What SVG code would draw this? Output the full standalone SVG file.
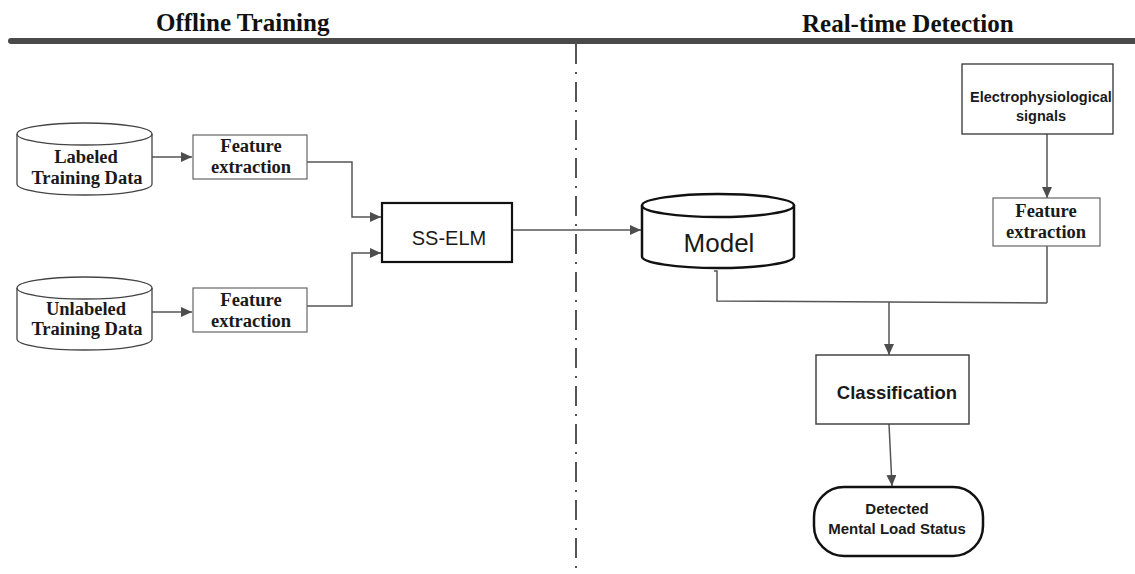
<svg xmlns="http://www.w3.org/2000/svg" width="1135" height="574" viewBox="0 0 1135 574">
<style>
.title{font-family:"Liberation Serif",serif;font-weight:bold;font-size:25px;fill:#111}
.serif{font-family:"Liberation Serif",serif;font-weight:bold;font-size:18.5px;fill:#1a1a1a;text-anchor:middle}
.sans{font-family:"Liberation Sans",Arial,sans-serif;fill:#1a1a1a}
.conn{fill:none;stroke:#555;stroke-width:1.5}
.thin{fill:#fff;stroke:#666;stroke-width:1.2}
</style>
<defs>
<marker id="ah" markerUnits="userSpaceOnUse" markerWidth="12" markerHeight="10" refX="11" refY="5" orient="auto">
<path d="M0,0 L11,5 L0,10 z" fill="#4d4d4d"/>
</marker>
</defs>
<rect width="1135" height="574" fill="#fff"/>
<g id="header">
<rect x="8" y="38" width="1135" height="6" rx="3" fill="#4a4a4a"/>
<text class="title" x="156" y="31">Offline Training</text>
<text class="title" x="802" y="32">Real-time Detection</text>
</g>
<g id="divider">
<line x1="576" y1="44" x2="576" y2="574" stroke="#555" stroke-width="2" stroke-dasharray="20 8 2 8"/>
</g>
<g id="connectors">
<path class="conn" d="M152,157 H192" marker-end="url(#ah)"/>
<path class="conn" d="M152,312 H192" marker-end="url(#ah)"/>
<path class="conn" d="M307,162 H352 V217 H381" marker-end="url(#ah)"/>
<path class="conn" d="M307,306 H352 V253 H381" marker-end="url(#ah)"/>
<path class="conn" d="M512,230 H641" marker-end="url(#ah)"/>
<path class="conn" d="M1047,134 V198" marker-end="url(#ah)"/>
<path class="conn" d="M714,271 H717 V301 L1047,303"/>
<path class="conn" d="M1047,246 V303"/>
<path class="conn" d="M889,302 V355" marker-end="url(#ah)"/>
<path class="conn" d="M889,424 L892,486" marker-end="url(#ah)"/>
</g>
<g id="labeled-data">
<path d="M17,134 A67.5,11 0 0 1 152,134 V184 A67.5,11 0 0 1 17,184 Z" fill="#fff" stroke="#444" stroke-width="1.3"/>
<path d="M17,134 A67.5,11 0 0 0 152,134" fill="none" stroke="#444" stroke-width="1.3"/>
<text class="serif" x="86" y="163">Labeled</text>
<text class="serif" x="87" y="184">Training Data</text>
</g>
<g id="unlabeled-data">
<path d="M17,288 A67.5,11 0 0 1 152,288 V339 A67.5,11 0 0 1 17,339 Z" fill="#fff" stroke="#444" stroke-width="1.3"/>
<path d="M17,288 A67.5,11 0 0 0 152,288" fill="none" stroke="#444" stroke-width="1.3"/>
<text class="serif" x="86" y="315">Unlabeled</text>
<text class="serif" x="87" y="335">Training Data</text>
</g>
<g id="feature-1">
<rect class="thin" x="193" y="135" width="114" height="44"/>
<text class="serif" x="251" y="152">Feature</text>
<text class="serif" x="251" y="173">extraction</text>
</g>
<g id="feature-2">
<rect class="thin" x="193" y="288" width="114" height="44"/>
<text class="serif" x="251" y="306">Feature</text>
<text class="serif" x="251" y="327">extraction</text>
</g>
<g id="ss-elm">
<rect x="382" y="203" width="130" height="59" fill="#fff" stroke="#111" stroke-width="2.2"/>
<text class="sans" x="449" y="245" font-size="20" text-anchor="middle">SS-ELM</text>
</g>
<g id="model">
<path d="M642,205.5 A76,11.5 0 0 1 794,205.5 V256.5 A76,11.5 0 0 1 642,256.5 Z" fill="#fff" stroke="#111" stroke-width="2.5"/>
<path d="M642,205.5 A76,11.5 0 0 0 794,205.5" fill="none" stroke="#111" stroke-width="2.5"/>
<text class="sans" x="719" y="252" font-size="26" text-anchor="middle">Model</text>
</g>
<g id="signals">
<rect x="962" y="64" width="151" height="70" fill="#fff" stroke="#333" stroke-width="1.3"/>
<text class="sans" x="1041" y="102" font-size="14.5" font-weight="bold" text-anchor="middle">Electrophysiological</text>
<text class="sans" x="1041" y="121" font-size="14.5" font-weight="bold" text-anchor="middle">signals</text>
</g>
<g id="feature-3">
<rect class="thin" x="993" y="198" width="107" height="48"/>
<text class="serif" x="1046" y="217">Feature</text>
<text class="serif" x="1046" y="238">extraction</text>
</g>
<g id="classification">
<rect x="816" y="355" width="153" height="69" fill="#fff" stroke="#444" stroke-width="1.5"/>
<text class="sans" x="897" y="399" font-size="18.5" font-weight="bold" text-anchor="middle">Classification</text>
</g>
<g id="detected">
<rect x="814" y="487" width="169" height="69" rx="30" ry="30" fill="#fff" stroke="#111" stroke-width="2.5"/>
<text class="sans" x="897" y="514" font-size="15" font-weight="bold" text-anchor="middle">Detected</text>
<text class="sans" x="897" y="534" font-size="15" font-weight="bold" text-anchor="middle">Mental Load Status</text>
</g>
</svg>
